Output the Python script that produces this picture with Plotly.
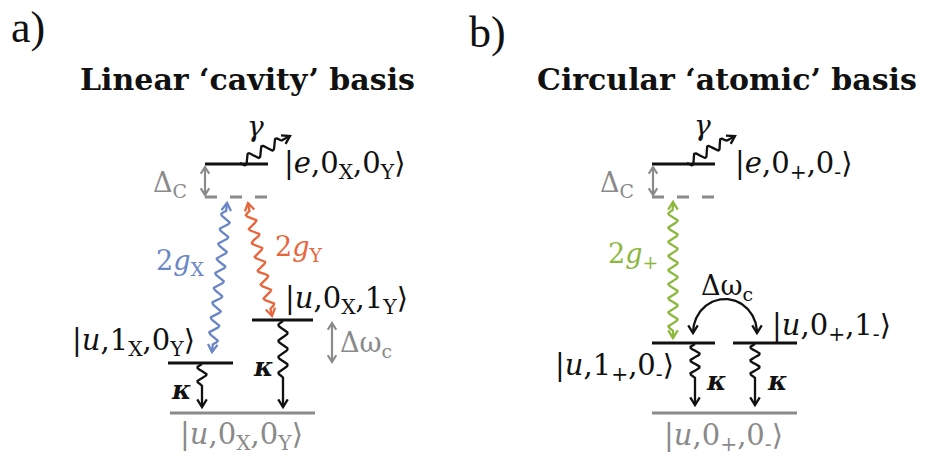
import numpy as np
import plotly.graph_objects as go

# ---------------------------------------------------------------------------
# Diagram content
# ---------------------------------------------------------------------------
BLACK = "#111111"
GRAY = "#8a8a8a"
BLUE = "#6a86c6"
ORANGE = "#e8663c"
GREEN = "#8cb83e"
SERIF = "DejaVu Serif"

panel_tags = ["a)", "b)"]
panel_titles = ["Linear ‘cavity’ basis", "Circular ‘atomic’ basis"]

# Energy levels: (x_start, x_end, y, colour, dashed)
levels_a = {
    "e": (205, 268, 164, BLACK, False),
    "virtual": (205, 268, 197, GRAY, True),
    "u1X": (168, 233, 363, BLACK, False),
    "u1Y": (252, 313, 320, BLACK, False),
    "ground": (170, 315, 413, GRAY, False),
}
levels_b = {
    "e": (652, 715, 164, BLACK, False),
    "virtual": (652, 715, 197, GRAY, True),
    "u1p": (652, 715, 343, BLACK, False),
    "u1m": (733, 797, 343, BLACK, False),
    "ground": (652, 797, 413, GRAY, False),
}

# State labels: (text, x_left, y_centre, colour)
kets = [
    ("|<i>e</i>,0<sub>X</sub>,0<sub>Y</sub>⟩", 282, 165, BLACK),
    ("|<i>u</i>,0<sub>X</sub>,1<sub>Y</sub>⟩", 283, 300, BLACK),
    ("|<i>u</i>,1<sub>X</sub>,0<sub>Y</sub>⟩", 70, 342, BLACK),
    ("|<i>u</i>,0<sub>X</sub>,0<sub>Y</sub>⟩", 178, 436, GRAY),
    ("|<i>e</i>,0<sub>+</sub>,0<sub>-</sub>⟩", 733, 165, BLACK),
    ("|<i>u</i>,0<sub>+</sub>,1<sub>-</sub>⟩", 770, 327, BLACK),
    ("|<i>u</i>,1<sub>+</sub>,0<sub>-</sub>⟩", 553, 367, BLACK),
    ("|<i>u</i>,0<sub>+</sub>,0<sub>-</sub>⟩", 662, 437, GRAY),
]

# Rate / coupling labels: (text, x_centre, y_centre, colour, size)
rate_labels = [
    ("<i>γ</i>", 255, 126, BLACK, 28),
    ("<i>γ</i>", 702, 125, BLACK, 28),
    ("Δ<sub>C</sub>", 170, 184, GRAY, 27),
    ("Δ<sub>C</sub>", 617, 184, GRAY, 27),
    ("2<i>g</i><sub>X</sub>", 180, 262, BLUE, 27),
    ("2<i>g</i><sub>Y</sub>", 298, 248, ORANGE, 27),
    ("2<i>g</i><sub>+</sub>", 633, 255, GREEN, 27),
    ("Δω<sub>c</sub>", 366, 344, GRAY, 27),
    ("Δω<sub>c</sub>", 727, 287, BLACK, 27),
    ("<b><i>κ</i></b>", 181, 390, BLACK, 26),
    ("<b><i>κ</i></b>", 263, 367, BLACK, 26),
    ("<b><i>κ</i></b>", 716, 381, BLACK, 26),
    ("<b><i>κ</i></b>", 777, 381, BLACK, 26),
]

# Wavy arrows: (start, tip, colour, double_headed, lead_start, lead_end, period)
wavy_arrows = [
    ((240, 163), (290, 136), BLACK, False, 0, 10, 15),      # γ decay (a)
    ((687, 163), (735, 136), BLACK, False, 0, 10, 15),      # γ decay (b)
    ((227, 203), (212, 352), BLUE, True, 8, 8, 14.5),       # 2gX
    ((248, 203), (272, 316), ORANGE, True, 8, 8, 14.5),     # 2gY
    ((673, 202), (673, 338), GREEN, True, 8, 8, 14.5),      # 2g+
    ((202, 364), (202, 407), BLACK, False, 0, 22, 14),      # κ (a, left)
    ((283, 321), (283, 407), BLACK, False, 0, 30, 15),      # κ (a, right)
    ((695, 344), (695, 405), BLACK, False, 0, 28, 14),      # κ (b, left)
    ((755, 344), (755, 405), BLACK, False, 0, 28, 14),      # κ (b, right)
]

# Straight double-headed gray arrows: (x, y_top, y_bottom)
split_arrows = [(205, 167, 195), (332, 323, 362), (653, 167, 195)]


# ---------------------------------------------------------------------------
# Geometry helpers
# ---------------------------------------------------------------------------
def wave_path(p0, p1, amp, period, lead0, lead1, n=300):
    p0 = np.asarray(p0, float)
    p1 = np.asarray(p1, float)
    d = p1 - p0
    length = np.hypot(*d)
    u = d / length
    nrm = np.array([-u[1], u[0]])
    wl = length - lead0 - lead1
    halves = max(1, round(2 * wl / period))
    per = 2 * wl / halves
    s = np.linspace(0, length, n)
    off = np.where((s >= lead0) & (s <= length - lead1),
                   amp * np.sin(2 * np.pi * (s - lead0) / per), 0.0)
    pts = p0[None, :] + s[:, None] * u[None, :] + off[:, None] * nrm[None, :]
    return pts[:, 0], pts[:, 1]


def rotate(v, t):
    return np.array([v[0] * np.cos(t) - v[1] * np.sin(t),
                     v[0] * np.sin(t) + v[1] * np.cos(t)])


def head_path(tip, direction, size=9, half_angle=32):
    tip = np.asarray(tip, float)
    d = np.asarray(direction, float)
    d = d / np.hypot(*d)
    a = np.radians(half_angle)
    b1 = tip - size * rotate(d, a)
    b2 = tip - size * rotate(d, -a)
    return [b1[0], tip[0], b2[0]], [b1[1], tip[1], b2[1]]


fig = go.Figure()


def add_line(xs, ys, color, width=2.0, dash=None):
    fig.add_trace(go.Scatter(
        x=list(xs), y=list(ys), mode="lines",
        line=dict(color=color, width=width, dash=dash),
        hoverinfo="skip", showlegend=False))


# Energy levels
for lv in (levels_a, levels_b):
    for x0, x1, y, col, dashed in lv.values():
        add_line([x0, x1], [y, y], col, width=3,
                 dash="12px,13px" if dashed else None)

# Wavy arrows
for p0, p1, col, double, l0, l1, per in wavy_arrows:
    xs, ys = wave_path(p0, p1, 4.6, per, l0, l1)
    add_line(xs, ys, col, width=2.3)
    hx, hy = head_path(p1, np.subtract(p1, p0))
    add_line(hx, hy, col, width=2.3)
    if double:
        hx, hy = head_path(p0, np.subtract(p0, p1))
        add_line(hx, hy, col, width=2.3)

# Level-splitting markers
for x, y0, y1 in split_arrows:
    add_line([x, x], [y0, y1], GRAY, width=2.2)
    for tip, d in (((x, y0), (0, -1)), ((x, y1), (0, 1))):
        hx, hy = head_path(tip, d, size=8)
        add_line(hx, hy, GRAY, width=2.2)

# Curved exchange arrow between the two single-photon states in (b)
t = np.linspace(0, np.pi, 120)
cx, cy, rx, ry = 725, 333, 32, 34
add_line(cx - rx * np.cos(t), cy - ry * np.sin(t), BLACK, width=2.3)
for tx in (cx - rx, cx + rx):
    hx, hy = head_path((tx, cy), (0, 1))
    add_line(hx, hy, BLACK, width=2.3)

# ---------------------------------------------------------------------------
# Text
# ---------------------------------------------------------------------------
ann = []
for tag, (x, y) in zip(panel_tags, [(28, 27), (487, 32)]):
    ann.append(dict(text=tag, x=x, y=y, font=dict(family="Liberation Serif", size=44,
                                                   color=BLACK)))
for title, x in zip(panel_titles, [247, 727]):
    ann.append(dict(text="<b>%s</b>" % title, x=x, y=79,
                    font=dict(family=SERIF, size=30, color=BLACK)))
for txt, x, y, col in kets:
    ann.append(dict(text=txt, x=x, y=y, xanchor="left",
                    font=dict(family=SERIF, size=29, color=col)))
for txt, x, y, col, size in rate_labels:
    ann.append(dict(text=txt, x=x, y=y, font=dict(family=SERIF, size=size, color=col)))

for a in ann:
    a.update(xref="x", yref="y", showarrow=False)
    a.setdefault("xanchor", "center")
    a.setdefault("yanchor", "middle")

fig.update_layout(
    width=928, height=460,
    margin=dict(l=0, r=0, t=0, b=0),
    paper_bgcolor="white", plot_bgcolor="white",
    xaxis=dict(range=[0, 928], visible=False, fixedrange=True),
    yaxis=dict(range=[460, 0], visible=False, fixedrange=True),
    annotations=ann,
    showlegend=False,
)

fig.write_html("out.html")
